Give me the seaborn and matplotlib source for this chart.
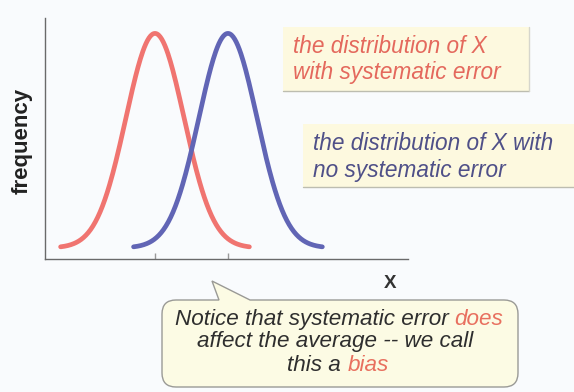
import numpy as np
import pandas as pd
import matplotlib
matplotlib.use("Agg")
import matplotlib.pyplot as plt
import seaborn as sns
from matplotlib.patches import Rectangle, PathPatch
from matplotlib.path import Path

# ---- data ----
series = ["with systematic error", "no systematic error"]
means = [3.03, 5.04]          # centre of each distribution (x units, axis 0..10)
sds = [0.80, 0.80]            # spread of each distribution
peaks = [0.89, 0.89]          # height of each curve above its base
bases = [0.046, 0.046]        # level of the curve tails
half_spans = [2.6, 2.6]       # how far each curve is drawn from its centre
tick_positions = [3.03, 5.04]
line_colors = ["#f07470", "#6165b5"]

sns.set_theme(style="white")
plt.rcParams['font.family'] = ['Liberation Sans', 'DejaVu Sans']

rows = []
for name, m, s, p, b, h in zip(series, means, sds, peaks, bases, half_spans):
    xs = np.linspace(m - h, m + h, 240)
    ys = b + p * np.exp(-0.5 * ((xs - m) / s) ** 2)
    for xv, yv in zip(xs, ys):
        rows.append({"series": name, "x": xv, "y": yv})
df = pd.DataFrame(rows)

bg = "#f9fbfd"
fig = plt.figure(figsize=(5.74, 3.92), dpi=100, facecolor=bg)
W, H = 574, 392
ax = fig.add_axes([45 / W, 1 - 259 / H, (408 - 45) / W, (259 - 18) / H])
ax.patch.set_alpha(0)

sns.lineplot(data=df, x="x", y="y", hue="series", palette=line_colors,
             linewidth=3.4, legend=False, sort=False, estimator=None, ax=ax)
for ln in ax.lines:
    ln.set_solid_capstyle("round")

ax.set_xlim(0, 10)
ax.set_ylim(0, 1)
for sp in ["top", "right"]:
    ax.spines[sp].set_visible(False)
for sp in ["left", "bottom"]:
    ax.spines[sp].set_color("#6a6a6a")
    ax.spines[sp].set_linewidth(1.0)
ax.set_xticks(tick_positions)
ax.set_xticklabels([])
ax.set_yticks([])
ax.tick_params(axis="x", direction="in", length=4, width=1, color="#999999", bottom=True)
ax.set_xlabel("")
ax.set_ylabel("")

# ---- overlay in pixel coordinates ----
ov = fig.add_axes([0, 0, 1, 1], zorder=3)
ov.set_xlim(0, W)
ov.set_ylim(H, 0)
ov.axis("off")
ov.patch.set_alpha(0)

# axis labels
ov.text(22, 141, "frequency", rotation=90, ha="center", va="center",
        fontsize=16, fontweight="bold", color="#222222")
ov.text(390, 284, "X", ha="center", va="center", fontsize=13.5,
        fontweight="bold", color="#333333")

# box 1 (red text)
box_fill = "#fdf9df"
ov.add_patch(Rectangle((283, 27), 246, 64, fc=box_fill, ec="none"))
ov.plot([283, 529], [91, 91], color="#bdbdb0", lw=1)
ov.plot([529, 529], [27, 91], color="#d6d6cc", lw=1)
red_txt = "#e4695d"
ov.text(293, 52.7, "the distribution of X", ha="left", va="baseline",
        fontsize=16.3, style="italic", color=red_txt)
ov.text(293, 79.3, "with systematic error", ha="left", va="baseline",
        fontsize=16.3, style="italic", color=red_txt)

# box 2 (blue text)
ov.add_patch(Rectangle((303, 124), 271, 63, fc=box_fill, ec="none"))
ov.plot([303, 574], [187, 187], color="#bdbdb0", lw=1)
blue_txt = "#4f5088"
ov.text(313, 150, "the distribution of X with", ha="left", va="baseline",
        fontsize=16.3, style="italic", color=blue_txt)
ov.text(313, 176.7, "no systematic error", ha="left", va="baseline",
        fontsize=16.3, style="italic", color=blue_txt)

# speech bubble
L, R, T, B, r = 162, 518, 300, 387, 14
verts = [
    (L + r, T), (219, T), (212, 281), (250, T), (R - r, T),
    (R, T), (R, T + r),
    (R, B - r),
    (R, B), (R - r, B),
    (L + r, B),
    (L, B), (L, B - r),
    (L, T + r),
    (L, T), (L + r, T),
    (L + r, T),
]
codes = [Path.MOVETO, Path.LINETO, Path.LINETO, Path.LINETO, Path.LINETO,
         Path.CURVE3, Path.CURVE3,
         Path.LINETO,
         Path.CURVE3, Path.CURVE3,
         Path.LINETO,
         Path.CURVE3, Path.CURVE3,
         Path.LINETO,
         Path.CURVE3, Path.CURVE3,
         Path.CLOSEPOLY]
ov.add_patch(PathPatch(Path(verts, codes), fc="#fcfbe4", ec="#9a9a96", lw=1.0))

dark = "#2e2e2e"
accent = "#e8705f"
bsize = 16.2
fig.canvas.draw()
renderer = fig.canvas.get_renderer()


def two_part_line(prefix, suffix, cx, y, c1, c2):
    full = prefix + " " + suffix
    t = ov.text(cx, y, full, ha="center", va="baseline", fontsize=bsize, style="italic")
    bb = t.get_window_extent(renderer)
    x0 = ov.transData.inverted().transform((bb.x0, bb.y0))[0]
    x1 = ov.transData.inverted().transform((bb.x1, bb.y0))[0]
    t.remove()
    ov.text(x0, y, prefix, ha="left", va="baseline", fontsize=bsize, style="italic", color=c1)
    ov.text(x1, y, suffix, ha="right", va="baseline", fontsize=bsize, style="italic", color=c2)


two_part_line("Notice that systematic error", "does", 339, 325, dark, accent)
ov.text(335, 347.5, "affect the average -- we call", ha="center", va="baseline",
        fontsize=bsize, style="italic", color=dark)
two_part_line("this a", "bias", 338, 371, dark, accent)

fig.savefig("out.png", dpi=100, facecolor=bg)
